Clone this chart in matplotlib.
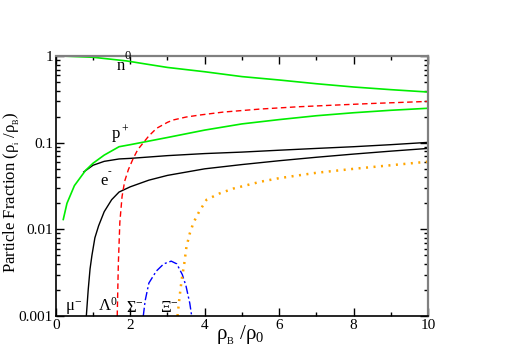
import numpy as np
import matplotlib
matplotlib.use("Agg")
import matplotlib.pyplot as plt
from matplotlib.ticker import LogLocator, NullFormatter, FixedLocator

plt.rcParams['font.family'] = ['Liberation Serif', 'DejaVu Serif']
plt.rcParams['mathtext.fontset'] = 'custom'
plt.rcParams['mathtext.rm'] = 'Liberation Serif'
plt.rcParams['mathtext.it'] = 'Liberation Serif:italic'
plt.rcParams['mathtext.default'] = 'rm'

# particle fractions (rho_B / rho_0 -> rho_i / rho_B)
n_x = [0.2, 1.0, 1.9, 2.5, 3.0, 4.0, 5.0, 6.0, 7.0, 8.0, 9.0, 10.0]
n_y = [1.0, 0.97, 0.88, 0.80, 0.74, 0.66, 0.58, 0.53, 0.48, 0.44, 0.41, 0.385]

p_x = [0.2, 0.3, 0.5, 0.8, 1.0, 1.3, 1.7, 2.0, 3.0, 4.0, 5.0, 6.0, 7.0, 8.0, 9.0, 10.0]
p_y = [0.013, 0.02, 0.032, 0.048, 0.058, 0.072, 0.09, 0.095, 0.115, 0.14, 0.165, 0.185, 0.205, 0.222, 0.237, 0.25]

e_x = [0.75, 1.0, 1.3, 1.7, 2.0, 3.0, 4.0, 5.0, 6.0, 7.0, 8.0, 9.0, 10.0]
e_y = [0.046, 0.055, 0.061, 0.065, 0.066, 0.071, 0.075, 0.078, 0.082, 0.086, 0.09, 0.095, 0.101]

mu_x = [0.82, 0.87, 0.92, 0.97, 1.05, 1.15, 1.3, 1.5, 1.7, 2.0, 2.5, 3.0, 4.0, 5.0, 6.0, 7.0, 8.0, 9.0, 10.0]
mu_y = [0.001, 0.002, 0.0035, 0.005, 0.008, 0.011, 0.016, 0.022, 0.027, 0.031, 0.037, 0.042, 0.05, 0.056, 0.062, 0.068, 0.074, 0.08, 0.086]

lam_x = [1.65, 1.68, 1.72, 1.78, 1.85, 1.95, 2.08, 2.2, 2.35, 2.5, 2.71, 3.0, 3.15, 3.5, 3.87, 4.5, 5.5, 6.5, 7.5, 8.5, 10.0]
lam_y = [0.001, 0.004, 0.012, 0.024, 0.036, 0.049, 0.066, 0.083, 0.10, 0.12, 0.147, 0.172, 0.183, 0.198, 0.209, 0.226, 0.245, 0.26, 0.272, 0.284, 0.30]

sig_x = [2.35, 2.4, 2.5, 2.7, 2.9, 3.1, 3.25, 3.4, 3.5, 3.6, 3.65]
sig_y = [0.001, 0.0015, 0.0024, 0.0033, 0.0040, 0.0043, 0.0040, 0.0030, 0.0022, 0.0014, 0.001]

xi_x = [3.27, 3.32, 3.38, 3.45, 3.51, 3.6, 3.7, 3.85, 4.05, 4.4, 4.77, 5.5, 6.0, 7.0, 8.0, 9.0, 10.0]
xi_y = [0.001, 0.0016, 0.0026, 0.004, 0.0063, 0.009, 0.012, 0.016, 0.022, 0.026, 0.0296, 0.0355, 0.039, 0.045, 0.050, 0.055, 0.0605]

fig = plt.figure(figsize=(5.12, 3.62), dpi=100)
ax = fig.add_axes([0.109, 0.127, 0.727, 0.718])

ax.plot(e_x, e_y, color='black', lw=1.0)
ax.plot(mu_x, mu_y, color='black', lw=1.0)
ax.plot(n_x, n_y, color='#00ee00', lw=1.2)
ax.plot(p_x, p_y, color='#00ee00', lw=1.2)
ax.plot(lam_x, lam_y, color='red', lw=1.0, dashes=(4, 2.5))
ax.plot(sig_x, sig_y, color='blue', lw=1.0, dashes=(6, 2, 1.5, 2))
ax.plot(xi_x, xi_y, color='orange', lw=1.8, dashes=(0.8, 2.2))

ax.set_yscale('log')
ax.set_xlim(0, 10)
ax.set_ylim(0.001, 1)

ax.xaxis.set_major_locator(FixedLocator([0, 2, 4, 6, 8, 10]))
ax.xaxis.set_minor_locator(FixedLocator([1, 3, 5, 7, 9]))
ax.set_yticks([0.001, 0.01, 0.1, 1])
ax.set_yticklabels(['0.001', '0.01', '0.1', '1'])
ax.yaxis.set_minor_locator(LogLocator(base=10, subs=np.arange(2, 10)))
ax.yaxis.set_minor_formatter(NullFormatter())

ax.tick_params(which='both', direction='in', top=True, right=True, labelsize=11, pad=2)
ax.tick_params(which='major', length=6, width=1)
ax.tick_params(which='minor', length=3, width=1)

for side in ['top', 'right']:
    ax.spines[side].set_color('#808080')
    ax.spines[side].set_linewidth(1.6)
for side in ['left', 'bottom']:
    ax.spines[side].set_color('black')
    ax.spines[side].set_linewidth(1.2)

ax.set_xlabel('ρ$_{_B}$ /ρ$_0$', fontsize=15)
ax.xaxis.set_label_coords(0.495, -0.073)
ax.xaxis.label.set_va('center')
ax.set_ylabel('Particle Fraction (ρ$_{_i}$ /ρ$_{_B}$)', fontsize=12)
ax.yaxis.set_label_coords(-0.118, 0.477)
ax.yaxis.label.set_va('center')

# curve labels
lab = dict(fontsize=12, ha='center', va='center')
ax.text(1.75, 0.77, 'n', **lab)
ax.text(1.92, 0.99, '0', fontsize=9, ha='center', va='center')
ax.text(1.73, 0.125, 'p$^+$', **lab)
ax.text(1.3, 0.036, 'e', **lab)
ax.text(1.45, 0.046, '-', fontsize=8, ha='center', va='center')
ax.text(0.47, 0.00125, 'μ$^{−}$', **lab)
ax.text(1.4, 0.0013, 'Λ$^0$', **lab)
ax.text(2.12, 0.00125, 'Σ$^{−}$', **lab)
ax.text(3.06, 0.00125, 'Ξ$^{−}$', **lab)

fig.savefig('out.png', dpi=100)
